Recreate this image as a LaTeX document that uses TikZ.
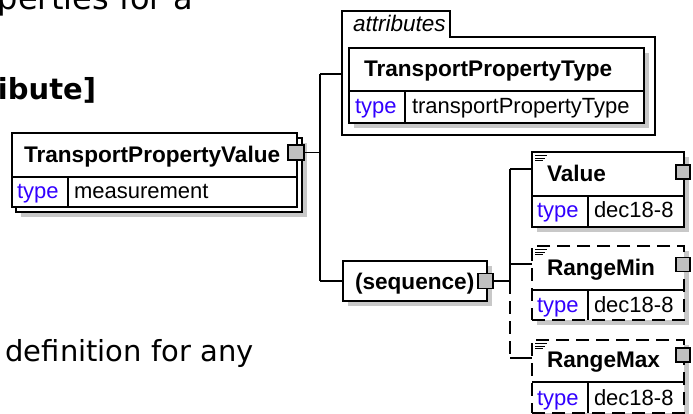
\documentclass[tikz,border=0pt]{standalone}
\usepackage{fontspec}
\newfontfamily\diafam{Liberation Sans}
\newfontfamily\descfam{DejaVu Sans}
\usetikzlibrary{shadows}
\definecolor{shgray}{RGB}{200,200,200}
\definecolor{sqgray}{RGB}{192,192,192}
\definecolor{typeblue}{RGB}{50,0,255}
\newcommand\xnm{\diafam\bfseries\fontsize{22.6}{26}\selectfont}
\newcommand\xtx{\diafam\fontsize{22}{26}\selectfont}
\newcommand\xit{\diafam\itshape\fontsize{22.5}{26}\selectfont}
\newcommand\xdt{\descfam\fontsize{32}{36}\selectfont}
\newcommand\xds{\descfam\fontsize{29}{34}\selectfont}
\newcommand\xdb{\descfam\bfseries\fontsize{29}{34}\selectfont}
\begin{document}
\begin{tikzpicture}[x=1pt,y=-1pt,
  ln/.style={line width=1.2pt},
  box/.style={draw, line width=1.2pt, fill=white, inner sep=0pt, outer sep=0pt, anchor=north west},
  shd/.style={drop shadow={shadow xshift=5pt, shadow yshift=-5pt, fill=shgray, opacity=1}},
  opt/.style={dash pattern=on 13pt off 7pt},
  sq/.style={draw, line width=1.2pt, fill=sqgray, inner sep=0pt, minimum size=14pt, outer sep=0pt},
  lbl/.style={anchor=base west, inner sep=0pt, outer sep=0pt},
  tp/.style={lbl, font=\xtx, text=typeblue},
  icon/.style={line width=0.8pt},
]
\useasboundingbox (0,0) rectangle (693,414);
\clip (0,0) rectangle (693,414);

% description texts
\node[lbl, font=\xdt] (d1) at (-2,10) {perties for a};
\node[lbl, font=\xdb] (d2) at (-2,100) {ibute]};
\node[lbl, font=\xds] (d3) at (5.5,361) {definition for any};

% TransportPropertyValue
\node[box, shd, minimum width=286pt, minimum height=74pt] (tpvback) at (16,138) {};
\node[box, minimum width=285pt, minimum height=74pt] (tpv) at (12,133) {};
\draw[ln] (12,177) -- (297,177);
\draw[ln] (68,177) -- (68,207);
\node[lbl, font=\xnm] (tpvname) at (24,163) {TransportPropertyValue};
\node[tp] (tpvtype) at (17,199) {type};
\node[lbl, font=\xtx] (tpvval) at (74,199) {measurement};
\node[sq, minimum width=16pt, minimum height=15pt] (tpvsq) at (296,152.5) {};

% bus 1
\coordinate (b1top) at (320,74);
\coordinate (b1bot) at (320,281);
\draw[ln] (tpvsq.east) -- (tpvsq.east -| b1top);
\draw[ln] (b1top) -- (b1bot);

% attributes
\node[inner sep=0pt, outer sep=0pt, minimum width=313pt, minimum height=124pt, anchor=north west] (attr) at (342,11) {};
\draw[ln, fill=white] (attr.north west) -- (attr.south west) -- (attr.south east) -- (655,37) -- (450,37) -- (450,11) -- cycle;
\node[lbl, font=\xit] (attrlbl) at (353,32) {attributes};
\draw[ln] (b1top) -- (b1top -| attr.west);

% TransportPropertyType
\node[box, shd, minimum width=295pt, minimum height=75pt] (tpt) at (349,48) {};
\draw[ln] (349,91) -- (644,91);
\draw[ln] (405,91) -- (405,123);
\node[lbl, font=\xnm] (tptname) at (364,77) {TransportPropertyType};
\node[tp] (tpttype) at (355,114) {type};
\node[lbl, font=\xtx] (tptval) at (412,114) {transportPropertyType};

% sequence
\node[box, shd, minimum width=144pt, minimum height=40pt] (seq) at (343,261) {};
\node[lbl, font=\xnm] (seqlbl) at (355,289) {(sequence)};
\node[sq, minimum size=15pt] (seqsq) at (485.5,281) {};
\draw[ln] (b1bot) -- (seq.west);

% bus 2
\coordinate (b2top) at (510,169);
\coordinate (b2rmin) at (510,264);
\coordinate (b2mid) at (510,281);
\coordinate (b2bot) at (510,358);
\draw[ln] (seqsq.east) -- (b2mid);
\draw[ln] (b2top) -- (b2mid);
\draw[ln, opt] (b2mid) -- (b2bot);

% Value
\node[box, shd, minimum width=152pt, minimum height=75pt] (val) at (532,152) {};
\draw[ln] (532,196) -- (684,196);
\draw[ln] (588,196) -- (588,227);
\node[lbl, font=\xnm] (valname) at (547,182) {Value};
\node[tp] (valtype) at (537,218) {type};
\node[lbl, font=\xtx] (valval) at (594,218) {dec18-8};
\node[sq] (valsq) at (683,172) {};
\draw[icon] (535,155.5) -- (547,155.5) (535,158) -- (545,158) (535,160.5) -- (543,160.5);
\draw[ln] (b2top) -- (b2top -| val.west);

% RangeMin
\node[box, shd, opt, minimum width=152pt, minimum height=74pt] (rmin) at (532,246) {};
\draw[ln] (532,290) -- (684,290);
\draw[ln] (588,290) -- (588,320);
\node[lbl, font=\xnm] (rminname) at (547,275) {RangeMin};
\node[tp] (rmintype) at (537,312) {type};
\node[lbl, font=\xtx] (rminval) at (594,312) {dec18-8};
\node[sq] (rminsq) at (683,264.5) {};
\draw[icon] (535,249.5) -- (547,249.5) (535,252) -- (545,252) (535,254.5) -- (543,254.5);
\draw[ln] (b2rmin) -- (b2rmin -| rmin.west);

% RangeMax
\node[box, shd, opt, minimum width=152pt, minimum height=73pt] (rmax) at (532,340) {};
\draw[ln] (532,382) -- (684,382);
\draw[ln] (588,382) -- (588,413);
\node[lbl, font=\xnm] (rmaxname) at (547,367) {RangeMax};
\node[tp] (rmaxtype) at (537,405) {type};
\node[lbl, font=\xtx] (rmaxval) at (594,405) {dec18-8};
\node[sq] (rmaxsq) at (683,355) {};
\draw[icon] (535,343.5) -- (547,343.5) (535,346) -- (545,346) (535,348.5) -- (543,348.5);
\draw[ln] (b2bot) -- (b2bot -| rmax.west);
\end{tikzpicture}
\end{document}
